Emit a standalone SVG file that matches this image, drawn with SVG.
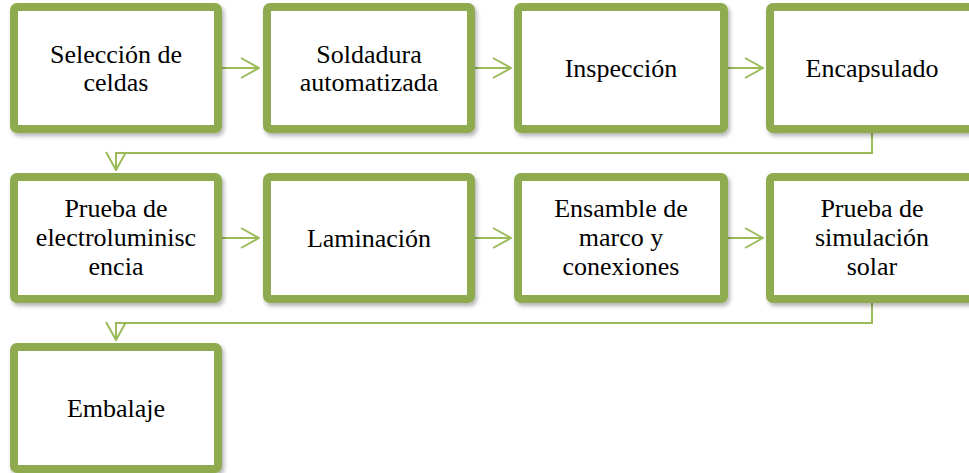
<svg xmlns="http://www.w3.org/2000/svg" width="969" height="473" viewBox="0 0 969 473">
<style>
.box{fill:#fff;stroke:#8eab50;stroke-width:8;filter:url(#sh)}
.t{font-family:'Liberation Serif','Times New Roman',serif;font-size:26px;fill:#000;text-anchor:middle}
.c{fill:none;stroke:#9bbb59;stroke-width:2}
</style>
<defs>
<filter id="sh" x="-10%" y="-10%" width="125%" height="130%">
<feDropShadow dx="2" dy="3" stdDeviation="2" flood-color="#000" flood-opacity="0.3"/>
</filter>
<marker id="ah" viewBox="0 0 20 22" refX="19" refY="11" markerWidth="20" markerHeight="22" markerUnits="userSpaceOnUse" orient="auto">
<path d="M1,1 L19,11 L1,21" fill="none" stroke="#9bbb59" stroke-width="2"/>
</marker>
</defs>
<g id="connectors">
<path class="c" d="M222,68 H259" marker-end="url(#ah)"/>
<path class="c" d="M475,68 H511" marker-end="url(#ah)"/>
<path class="c" d="M728,68 H763" marker-end="url(#ah)"/>
<path class="c" d="M872,133 V153 H116 V170" marker-end="url(#ah)"/>
<path class="c" d="M222,238 H259" marker-end="url(#ah)"/>
<path class="c" d="M475,238 H511" marker-end="url(#ah)"/>
<path class="c" d="M728,238 H763" marker-end="url(#ah)"/>
<path class="c" d="M872,303 V323 H116 V340" marker-end="url(#ah)"/>
</g>
<g id="n1"><rect class="box" x="14" y="7" width="204" height="122" rx="3"/><text class="t" x="116" y="63">Selección de</text><text class="t" x="116" y="91">celdas</text></g>
<g id="n2"><rect class="box" x="267" y="7" width="204" height="122" rx="3"/><text class="t" x="369" y="63">Soldadura</text><text class="t" x="369" y="91">automatizada</text></g>
<g id="n3"><rect class="box" x="518" y="7" width="206" height="122" rx="3"/><text class="t" x="621" y="77">Inspección</text></g>
<g id="n4"><rect class="box" x="770" y="7" width="204" height="122" rx="3"/><text class="t" x="872" y="77">Encapsulado</text></g>
<g id="n5"><rect class="box" x="14" y="177" width="204" height="122" rx="3"/><text class="t" x="116" y="217">Prueba de</text><text class="t" x="116" y="246">electroluminisc</text><text class="t" x="116" y="275">encia</text></g>
<g id="n6"><rect class="box" x="267" y="177" width="204" height="122" rx="3"/><text class="t" x="369" y="247">Laminación</text></g>
<g id="n7"><rect class="box" x="518" y="177" width="206" height="122" rx="3"/><text class="t" x="621" y="217">Ensamble de</text><text class="t" x="621" y="246">marco y</text><text class="t" x="621" y="275">conexiones</text></g>
<g id="n8"><rect class="box" x="770" y="177" width="204" height="122" rx="3"/><text class="t" x="872" y="217">Prueba de</text><text class="t" x="872" y="246">simulación</text><text class="t" x="872" y="275">solar</text></g>
<g id="n9"><rect class="box" x="14" y="347" width="204" height="122" rx="3"/><text class="t" x="116" y="417">Embalaje</text></g>
</svg>
